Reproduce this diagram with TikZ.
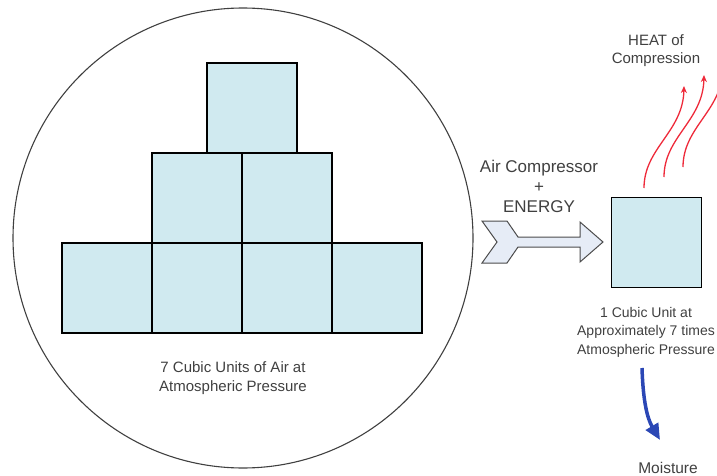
\documentclass[tikz,border=0pt]{standalone}
\usepackage{fontspec}
\setmainfont{Liberation Sans}
\usetikzlibrary{positioning,arrows.meta}
\definecolor{cubeFill}{RGB}{208,234,240}
\definecolor{arrowFill}{RGB}{230,236,246}
\definecolor{heatRed}{RGB}{238,42,58}
\definecolor{moistBlue}{RGB}{43,71,181}
\definecolor{labelGray}{RGB}{64,64,64}

\begin{document}
\begin{tikzpicture}[x=1pt, y=-1pt,
  cube/.style={draw, line width=1.5pt, fill=cubeFill, minimum size=90pt, inner sep=0pt, outer sep=0pt},
  lbl/.style={text=labelGray, align=center, inner sep=0pt},
  heat/.style={heatRed, line width=1.3pt, -{Stealth[length=7pt,width=6pt]}},
  moist/.style={moistBlue, line width=3.5pt, -{Triangle[length=16pt,width=14pt]}}]
 	\useasboundingbox (0,0) rectangle (717,476);
 	\draw[line width=1.1pt, black!75] (243,238) circle (230pt);
 	% seven cubes at atmospheric pressure
 	\node[cube] (b1) at (107,288) {};
 	\node[cube, right=0pt of b1] (b2) {};
 	\node[cube, right=0pt of b2] (b3) {};
 	\node[cube, right=0pt of b3] (b4) {};
 	\node[cube, above=0pt of b2] (m1) {};
 	\node[cube, above=0pt of b3] (m2) {};
 	\node[cube] (t1) at (252,108) {};
 	\node[lbl, font=\fontsize{15}{19}\selectfont] (bigLbl) at (233,378) {7 Cubic Units of Air at\\Atmospheric Pressure};
 	% compressor arrow
 	\draw[line width=1pt, draw=black!70, fill=arrowFill] (482,221) -- (507,221) -- (518,237) -- (580,237) -- (580,222) -- (603,242) -- (580,262) -- (580,247) -- (518,247) -- (507,263) -- (482,263) -- (497,242) -- cycle;
 	\node[lbl, font=\fontsize{17}{20}\selectfont] (compLbl) at (539,186) {Air Compressor\\+\\ENERGY};
 	% compressed cube
 	\node[cube] (small) at (656.5,242.5) {};
 	\node[lbl, font=\fontsize{14}{18.5}\selectfont] (smallLbl) at (646,332) {1 Cubic Unit at\\Approximately 7 times\\Atmospheric Pressure};
 	% heat
 	\foreach \dx/\dy in {0/0, 20/-11, 39/-21}
 	  \draw[heat, shift={(\dx,\dy)}] (644,188) .. controls (644,148) and (683,132) .. (684,86);
 	\node[lbl, font=\fontsize{15}{18}\selectfont] (heatLbl) at (656,51) {HEAT of\\Compression};
 	% moisture
 	\coordinate (drip) at (642,368);
 	\coordinate (drop) at (660,440);
 	\draw[moist] (drip) .. controls (643,400) and (647,418) .. (drop);
 	\node[lbl, font=\fontsize{15.5}{18}\selectfont] (moistLbl) at (668,468) {Moisture};
\end{tikzpicture}
\end{document}
